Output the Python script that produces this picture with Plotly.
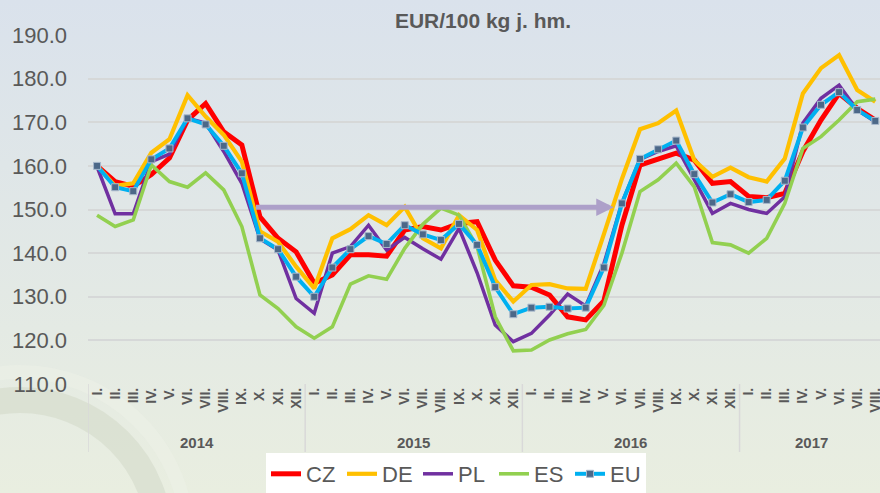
import base64
import plotly.graph_objects as go

# ---------------- data ----------------
years = ["2014", "2015", "2016", "2017"]
months_per_year = [12, 12, 12, 8]
month_labels = ["I.", "II.", "III.", "IV.", "V.", "VI.", "VII.", "VIII.", "IX.", "X.", "XI.", "XII."]

CZ = [160.0, 156.4, 155.3, 158.0, 161.8, 170.5, 174.3, 167.8, 164.8, 148.3, 143.4, 140.3,
      133.1, 135.0, 139.6, 139.6, 139.3, 145.3, 146.1, 145.3, 146.8, 147.2, 138.4, 132.5,
      132.2, 130.4, 125.4, 124.7, 129.0, 146.4, 160.2, 161.7, 162.9, 161.3, 156.0, 156.4,
      153.0, 152.7, 153.7, 163.3, 170.5, 176.6, 173.2, 170.5]
DE = [160.0, 155.4, 156.0, 163.0, 166.1, 176.2, 171.3, 167.1, 161.0, 145.0, 142.6, 136.9,
      131.9, 143.4, 145.5, 148.7, 146.4, 150.6, 143.4, 141.1, 148.7, 145.3, 133.8, 128.9,
      132.7, 132.9, 131.9, 131.8, 144.3, 157.0, 168.4, 169.8, 172.7, 161.3, 157.5, 159.6,
      157.4, 156.4, 161.7, 176.6, 182.4, 185.4, 177.4, 174.7]
PL = [159.8, 149.0, 149.0, 161.0, 162.7, 170.9, 169.8, 163.3, 156.0, 143.3, 140.7, 129.6,
      126.2, 140.0, 141.5, 146.4, 140.7, 143.6, 141.0, 138.6, 145.7, 135.5, 123.5, 119.7,
      121.6, 125.8, 130.6, 127.9, 137.5, 151.5, 161.5, 163.3, 164.6, 156.8, 149.1, 151.4,
      150.0, 149.1, 152.9, 169.8, 175.5, 178.5, 172.8, 170.1]
ES = [148.7, 146.1, 147.6, 160.2, 156.4, 155.1, 158.4, 154.5, 146.1, 130.4, 127.3, 123.1,
      120.5, 123.1, 132.9, 134.8, 134.0, 141.1, 146.6, 150.3, 148.7, 141.5, 125.4, 117.6,
      117.8, 120.1, 121.5, 122.5, 128.0, 140.0, 154.1, 156.8, 160.6, 155.2, 142.4, 141.9,
      140.0, 143.4, 151.4, 164.0, 166.7, 170.5, 174.7, 175.3]
EU = [160.0, 155.1, 154.2, 161.5, 164.0, 170.9, 169.5, 164.6, 158.3, 143.4, 140.9, 134.6,
      130.0, 136.7, 140.9, 143.9, 142.1, 146.4, 144.3, 143.0, 146.7, 141.9, 132.2, 126.0,
      127.5, 127.7, 127.3, 127.5, 136.7, 151.4, 161.6, 163.8, 165.8, 158.1, 151.6, 153.5,
      151.7, 152.2, 156.6, 168.8, 174.0, 176.9, 172.8, 170.3]

# arrow (index positions on the month axis, value level)
ARROW_FROM = 8.7
ARROW_TO = 28.55
ARROW_LEVEL = 150.5

# ---------------- derived axis ----------------
ticktext = []
for n in months_per_year:
    ticktext += month_labels[:n]
x = list(range(len(ticktext)))

W, H = 880, 493
ML, MR, MT, MB = 88, 0, 35, 109
PW, PH = W - ML - MR, H - MT - MB
GREY = "#595959"

# background gradient + faint watermark as svg
svg = f'''<svg xmlns="http://www.w3.org/2000/svg" width="{W}" height="{H}" viewBox="0 0 {W} {H}">
<defs><linearGradient id="g" x1="0" y1="0" x2="0" y2="1">
<stop offset="0" stop-color="#DAE2EC"/><stop offset="1" stop-color="#E9EEE0"/></linearGradient></defs>
<rect width="{W}" height="{H}" fill="url(#g)"/>
<circle cx="20" cy="540" r="140" fill="none" stroke="#D8DECF" stroke-opacity="0.8" stroke-width="26"/>
<circle cx="20" cy="540" r="168" fill="none" stroke="#EDF1E7" stroke-opacity="0.5" stroke-width="14"/>
</svg>'''
bg_src = "data:image/svg+xml;base64," + base64.b64encode(svg.encode()).decode()

fig = go.Figure()
series = [("CZ", CZ, "#FF0000", 5), ("DE", DE, "#FFC000", 4.2),
          ("PL", PL, "#7030A0", 3.5), ("ES", ES, "#92D050", 3.6)]
for name, vals, col, w in series:
    fig.add_trace(go.Scatter(x=x, y=vals, name=name, mode="lines",
                             line=dict(color=col, width=w), hoverinfo="skip"))
fig.add_trace(go.Scatter(x=x, y=EU, name="EU", mode="lines+markers",
                         line=dict(color="#00B0F0", width=4),
                         marker=dict(symbol="square", size=7, color="#4C6888",
                                     line=dict(color="#A9B9CC", width=1)),
                         hoverinfo="skip"))

# arrow
fig.add_annotation(x=ARROW_TO, y=ARROW_LEVEL, ax=ARROW_FROM, ay=ARROW_LEVEL,
                   xref="x", yref="y", axref="x", ayref="y", text="",
                   showarrow=True, arrowhead=2, arrowsize=0.7, arrowwidth=5,
                   arrowcolor="#ADA0C9")

# year dividers and labels
start = -0.5
div_bottom = -(452 - 384) / PH
for i, (yr, n) in enumerate(zip(years, months_per_year)):
    fig.add_shape(type="line", xref="x", yref="paper", x0=start, x1=start,
                  y0=0, y1=div_bottom, line=dict(color="#D9D9D9", width=1.5))
    fig.add_annotation(x=start + n / 2, y=-(442 - 384) / PH, xref="x", yref="paper",
                       text=f"<b>{yr}</b>", showarrow=False,
                       font=dict(family="Liberation Sans", size=15, color=GREY),
                       yanchor="middle")
    start += n

fig.add_layout_image(source=bg_src, xref="paper", yref="paper",
                     x=-ML / PW, y=1 + MT / PH, sizex=W / PW, sizey=H / PH,
                     xanchor="left", yanchor="top", sizing="stretch", layer="below")

fig.update_layout(
    width=W, height=H,
    margin=dict(l=ML, r=MR, t=MT, b=MB, autoexpand=False),
    paper_bgcolor="#E3E9E6", plot_bgcolor="rgba(0,0,0,0)",
    title=dict(text="<b>EUR/100 kg j. hm.</b>", x=(483 - ML) / PW, xref="paper",
               xanchor="center", y=1 - 21 / H, yanchor="middle",
               font=dict(family="Liberation Sans", size=21, color=GREY)),
    showlegend=True,
    legend=dict(orientation="h", x=(456 - ML) / PW, xanchor="center",
                y=(384 - 495) / PH, yanchor="bottom", bgcolor="#FFFFFF",
                font=dict(family="Liberation Sans", size=22, color=GREY),
                entrywidth=31, itemwidth=30, tracegroupgap=0),
    xaxis=dict(range=[-0.5, 43.26], tickmode="array", tickvals=x,
               ticktext=[f"<b>{t}</b>" for t in ticktext], tickangle=-90,
               tickfont=dict(family="Liberation Sans", size=14, color=GREY),
               ticklabeloverflow="allow",
               showgrid=False, zeroline=False, showline=False, ticks="",
               automargin=False, fixedrange=True),
    yaxis=dict(range=[110, 190], dtick=10, tickformat=".1f",
               tickfont=dict(family="Liberation Sans", size=22, color=GREY),
               gridcolor="#D6D8D8", gridwidth=1.5, zeroline=False, showline=False,
               ticklabelstandoff=20, automargin=False, fixedrange=True),
)

fig.write_html("out.html", config={"displayModeBar": False},
               post_script="document.body.style.margin='0';document.body.style.overflow='hidden';")
